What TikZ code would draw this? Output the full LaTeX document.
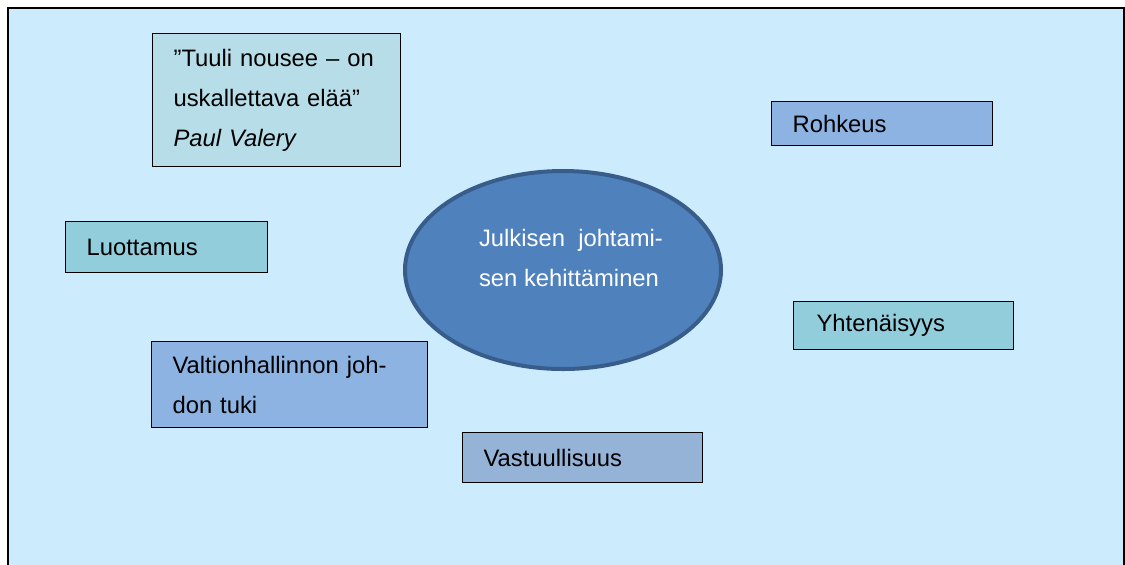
\documentclass[tikz,border=0pt]{standalone}
\usepackage{fontspec}
\setmainfont{Liberation Sans}
\usetikzlibrary{shapes.geometric}

\definecolor{bgblue}{HTML}{CCEBFC}
\definecolor{quotefill}{HTML}{B7DDE8}
\definecolor{bluebox}{HTML}{8DB3E2}
\definecolor{tealbox}{HTML}{92CDDC}
\definecolor{greyblue}{HTML}{95B3D7}
\definecolor{ovalfill}{HTML}{4F81BD}
\definecolor{ovalline}{HTML}{385D8A}

\begin{document}
\begin{tikzpicture}[x=0.5pt, y=-0.5pt,
	box/.style={draw=black, line width=0.6pt, anchor=north west, align=left,
		inner xsep=10.5pt, inner ysep=0pt,
		font=\fontsize{11.9}{20}\selectfont},
	oval/.style={ellipse, draw=ovalline, line width=2pt, fill=ovalfill,
		minimum width=158pt, minimum height=99pt, inner sep=0pt}]
	%page and frame
	\useasboundingbox[fill=white] (0, 0) rectangle (1125, 564);
	\draw[line width=1pt, fill=bgblue] (8, 8) rectangle (1124, 600);
	%centre
	\node[oval] (kehitys) at (563, 270) {};
	\node[align=left, inner sep=0pt, text=white,
		font=\fontsize{11.9}{20}\selectfont] (kehitysteksti) at (571, 258)
		{Julkisen\ \ johtami-\\sen kehittäminen};
	%boxes round it
	\node[box, fill=quotefill, text width=103pt, minimum height=66.5pt] (lainaus) at (152, 33)
		{”Tuuli nousee – on\\uskallettava elää”\\\textit{Paul Valery}};
	\node[box, fill=bluebox, text width=89.5pt, minimum height=22pt] (rohkeus) at (771, 101)
		{Rohkeus};
	\node[box, fill=tealbox, text width=80pt, minimum height=25.5pt] (luottamus) at (65, 221)
		{Luottamus};
	\node[box, fill=tealbox, text width=89pt, minimum height=24pt] (yhtenaisyys) at (793, 301)
		{\hspace*{1pt}Yhtenäisyys};
	\node[box, fill=bluebox, text width=117pt, minimum height=43pt] (tuki) at (151, 341)
		{Valtionhallinnon joh-\\don tuki};
	\node[box, fill=greyblue, text width=99pt, minimum height=25pt] (vastuu) at (462, 432)
		{Vastuullisuus};
\end{tikzpicture}
\end{document}
